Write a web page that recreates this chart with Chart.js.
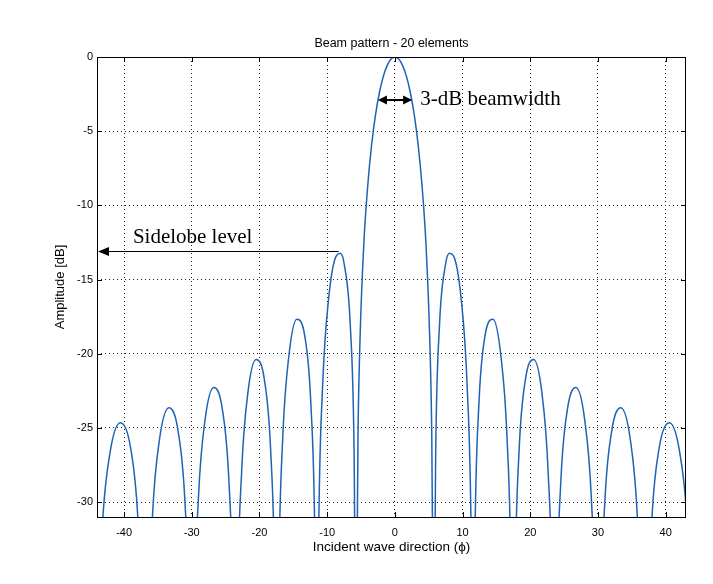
<!DOCTYPE html>
<html>
<head>
<meta charset="utf-8">
<title>Beam pattern - 20 elements</title>
<script src="https://cdn.jsdelivr.net/npm/chart.js@4"></script>
<style>
  html, body { margin: 0; padding: 0; background: #fff; }
  canvas { display: block; }
</style>
</head>
<body>
<canvas id="beamChart" width="713" height="584"></canvas>
<script>
// Beam pattern samples: incident angle (deg) and amplitude (dB)
const incidentAngles = [
    -44.31, -44.03, -43.24, -42.07, -40.54, -39.05, -37.95, -37.23, -36.98,
    -36.76, -36.51, -35.80, -34.75, -33.37, -32.01, -31.00, -30.33, -30.10,
    -29.90, -29.67, -29.01, -28.03, -26.74, -25.47, -24.52, -23.89, -23.67,
    -23.48, -23.27, -22.64, -21.72, -20.49, -19.27, -18.36, -17.76, -17.55,
    -17.37, -17.16, -16.56, -15.66, -14.48, -13.30, -12.42, -11.83, -11.62,
    -11.45, -11.25, -10.66, -9.79, -8.63, -8.05, -7.47, -6.60, -6.03, -5.83,
    -5.65, -5.45, -5.16, -4.59, -4.01, -3.44, -2.87, -2.29, -1.72, -1.15, -0.57,
    0,
    0.57, 1.15, 1.72, 2.29, 2.87, 3.44, 4.01, 4.59, 5.16, 5.45, 5.65,
    5.83, 6.03, 6.60, 7.47, 8.05, 8.63, 9.79, 10.66, 11.25, 11.45,
    11.62, 11.83, 12.42, 13.30, 14.48, 15.66, 16.56, 17.16, 17.37,
    17.55, 17.76, 18.36, 19.27, 20.49, 21.72, 22.64, 23.27, 23.48,
    23.67, 23.89, 24.52, 25.47, 26.74, 28.03, 29.01, 29.67, 29.90,
    30.10, 30.33, 31.00, 32.01, 33.37, 34.75, 35.80, 36.51, 36.76,
    36.98, 37.23, 37.95, 39.05, 40.54, 42.07, 43.24, 44.03, 44.31
];
const amplitudeDb = [
    -51.55, -41.09, -31.77, -26.64, -24.64, -26.30, -31.19, -40.34, -50.74,
    -50.71, -40.24, -30.89, -25.71, -23.64, -25.24, -30.07, -39.19, -49.57,
    -49.53, -39.05, -29.66, -24.42, -22.27, -23.78, -28.54, -37.61, -47.97,
    -47.92, -37.42, -27.98, -22.65, -20.38, -21.76, -26.41, -35.40, -45.74,
    -45.66, -35.14, -25.61, -20.15, -17.68, -18.83, -23.29, -32.14, -42.42,
    -42.30, -31.72, -22.02, -16.29, -13.38, -13.23, -14.00, -17.97, -26.44, -36.58,
    -36.31, -25.58, -19.20, -12.60, -8.67, -5.93, -3.92, -2.41, -1.32, -0.58, -0.14,
    0,
    -0.14, -0.58, -1.32, -2.41, -3.92, -5.93, -8.67, -12.60, -19.20, -25.58, -36.31,
    -36.58, -26.44, -17.97, -14.00, -13.23, -13.38, -16.29, -22.02, -31.72, -42.30,
    -42.42, -32.14, -23.29, -18.83, -17.68, -20.15, -25.61, -35.14, -45.66,
    -45.74, -35.40, -26.41, -21.76, -20.38, -22.65, -27.98, -37.42, -47.92,
    -47.97, -37.61, -28.54, -23.78, -22.27, -24.42, -29.66, -39.05, -49.53,
    -49.57, -39.19, -30.07, -25.24, -23.64, -25.71, -30.89, -40.24, -50.71,
    -50.74, -40.34, -31.19, -26.30, -24.64, -26.64, -31.77, -41.09, -51.55
];
const xTicks = [-40, -30, -20, -10, 0, 10, 20, 30, 40];
const yTicks = [0, -5, -10, -15, -20, -25, -30];

// annotation anchors (data units)
const beamEdges = [-2.5, 2.55];
const beamArrowLevel = -2.9;
const sidelobeLevel = -13.1;
const sidelobePeakAngle = -8.3;

const sansFont = "'Liberation Sans', Arial, sans-serif";
const serifFont = "'Liberation Serif', 'Times New Roman', serif";

function arrowHead(ctx, tipX, tipY, dir, len, half) {
    ctx.beginPath();
    ctx.moveTo(tipX, tipY);
    ctx.lineTo(tipX - dir * len, tipY - half);
    ctx.lineTo(tipX - dir * len, tipY + half);
    ctx.closePath();
    ctx.fill();
}

// frame, inner ticks, titles and the two annotations
const frameAndNotes = {
    id: 'frameAndNotes',
    afterDraw(chart) {
        const { ctx, chartArea: a, scales: { x, y } } = chart;
        ctx.save();

        ctx.strokeStyle = '#000';
        ctx.lineWidth = 1;
        ctx.setLineDash([]);
        ctx.strokeRect(a.left + 0.5, a.top + 0.5, a.right - a.left - 1, a.bottom - a.top);

        ctx.beginPath();
        xTicks.forEach(v => {
            const px = Math.round(x.getPixelForValue(v)) + 0.5;
            ctx.moveTo(px, a.bottom); ctx.lineTo(px, a.bottom - 5);
            ctx.moveTo(px, a.top); ctx.lineTo(px, a.top + 5);
        });
        yTicks.forEach(v => {
            const py = Math.round(y.getPixelForValue(v)) + 0.5;
            ctx.moveTo(a.left, py); ctx.lineTo(a.left + 5, py);
            ctx.moveTo(a.right, py); ctx.lineTo(a.right - 5, py);
        });
        ctx.stroke();

        ctx.fillStyle = '#000';
        ctx.textAlign = 'center';
        ctx.textBaseline = 'alphabetic';
        ctx.font = `12.5px ${sansFont}`;
        ctx.fillText('Beam pattern - 20 elements', (a.left + a.right) / 2, 46.5);
        ctx.font = `13.5px ${sansFont}`;
        ctx.fillText('Incident wave direction (\u03D5)', (a.left + a.right) / 2, 551);

        ctx.save();
        ctx.translate(64, (a.top + a.bottom) / 2);
        ctx.rotate(-Math.PI / 2);
        ctx.font = `13px ${sansFont}`;
        ctx.fillText('Amplitude [dB]', 0, 0);
        ctx.restore();

        // 3-dB beamwidth double arrow
        const by = y.getPixelForValue(beamArrowLevel);
        const bx0 = x.getPixelForValue(beamEdges[0]);
        const bx1 = x.getPixelForValue(beamEdges[1]);
        ctx.lineWidth = 2;
        ctx.beginPath();
        ctx.moveTo(bx0 + 6, by);
        ctx.lineTo(bx1 - 6, by);
        ctx.stroke();
        arrowHead(ctx, bx0, by, -1, 9, 4.5);
        arrowHead(ctx, bx1, by, 1, 9, 4.5);

        ctx.textAlign = 'left';
        ctx.font = `21px ${serifFont}`;
        ctx.fillText('3-dB beamwidth', bx1 + 8, by + 5);

        // sidelobe level arrow pointing to the y axis
        const sy = Math.round(y.getPixelForValue(sidelobeLevel)) + 0.5;
        const sx = x.getPixelForValue(sidelobePeakAngle);
        ctx.lineWidth = 1;
        ctx.beginPath();
        ctx.moveTo(sx, sy);
        ctx.lineTo(a.left + 8, sy);
        ctx.stroke();
        arrowHead(ctx, a.left + 1, sy, -1, 11, 4.5);

        ctx.fillText('Sidelobe level', x.getPixelForValue(-38.7), sy - 8.5);

        ctx.restore();
    }
};

const beamCanvas = document.getElementById('beamChart').getContext('2d');

const beamChart = new Chart(beamCanvas, {
    type: 'line',
    data: {
        datasets: [{
            data: incidentAngles.map((ang, i) => ({ x: ang, y: amplitudeDb[i] })),
            borderColor: '#1f63b6',
            borderWidth: 1.5,
            pointRadius: 0,
            fill: false,
            cubicInterpolationMode: 'monotone'
        }]
    },
    options: {
        responsive: false,
        animation: false,
        layout: { padding: { left: 0, right: 27, top: 57, bottom: 0 } },
        plugins: {
            legend: { display: false },
            tooltip: { enabled: false },
            title: { display: false }
        },
        scales: {
            x: {
                type: 'linear',
                min: -44,
                max: 43,
                afterBuildTicks: scale => { scale.ticks = xTicks.map(v => ({ value: v })); },
                afterFit: scale => { scale.height = 67; },
                grid: { color: '#222', lineWidth: 1, drawTicks: false },
                border: { display: false, dash: [1, 3] },
                ticks: {
                    padding: 9,
                    color: '#000',
                    font: { family: sansFont, size: 11 },
                    maxRotation: 0
                }
            },
            y: {
                type: 'linear',
                min: -31,
                max: 0,
                afterBuildTicks: scale => { scale.ticks = yTicks.map(v => ({ value: v })); },
                afterFit: scale => { scale.width = 97; },
                grid: { color: '#222', lineWidth: 1, drawTicks: false },
                border: { display: false, dash: [1, 3] },
                ticks: {
                    padding: 4,
                    color: '#000',
                    font: { family: sansFont, size: 11 }
                }
            }
        }
    },
    plugins: [frameAndNotes]
});
</script>
</body>
</html>
